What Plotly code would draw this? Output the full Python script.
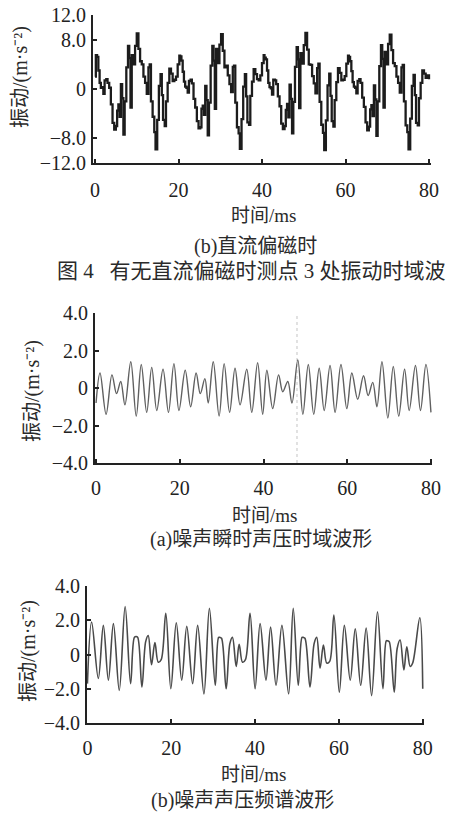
import plotly.graph_objects as go

# ---------------- data ----------------
# (top) vibration with DC bias, ms / m·s^-2
dc_t_p1 = [0.0,0.2,0.5,0.8,1.1,1.4,1.7,2.0,2.3,2.7,3.0,3.4,3.8,4.2,4.6,5.0,5.3,5.6,5.9,6.2,6.5,6.8,7.1,7.5,7.9,8.2,8.5,8.8,9.2,9.6,10.0,10.4,10.8,11.2,11.6,12.0,12.4,12.8,13.1,13.4,13.8,14.2,14.5,14.9,15.3,15.7,16.0,16.3,16.7,17.0,17.4,17.8,18.2,18.6,19.0,19.4,19.8]
dc_v_p1 = [2.0,5.5,5.2,3.0,1.0,0.2,0.3,-0.8,1.4,1.6,1.0,0.2,-2.5,-5.5,-6.6,-6.0,-3.5,-2.5,-4.5,0.8,-1.5,-7.4,-2.0,3.5,7.0,5.0,-3.0,5.5,4.0,7.0,9.0,6.5,4.5,4.0,2.0,1.0,-0.8,3.5,4.0,-2.0,-4.5,-7.0,-9.8,-5.0,0.5,2.4,-1.0,-5.0,-6.0,-2.0,1.0,3.3,2.5,1.3,1.5,2.0,4.0]
dc_t_p2 = [20.2,20.4,20.7,21.0,21.3,21.6,21.9,22.2,22.5,22.9,23.2,23.6,24.0,24.4,24.8,25.2,25.5,25.8,26.1,26.4,26.7,27.0,27.3,27.7,28.1,28.4,28.7,29.0,29.4,29.8,30.2,30.6,31.0,31.4,31.8,32.2,32.6,33.0,33.3,33.6,34.0,34.4,34.7,35.1,35.5,35.9,36.2,36.5,36.9,37.2,37.6,38.0,38.4,38.8,39.2,39.6,40.0]
dc_v_p2 = [5.4,5.3,4.6,2.8,1.2,0.4,0.2,-0.6,1.3,1.5,0.9,-1.6,-3.0,-5.2,-6.4,-6.2,-3.2,-2.7,-4.2,0.5,-1.8,-7.5,-2.2,3.8,7.0,4.6,-3.2,6.5,4.2,7.2,8.9,6.2,3.5,3.8,2.2,0.8,-0.5,3.6,3.8,-2.2,-6.2,-7.2,-9.7,-4.9,0.4,2.4,-1.2,-5.4,-5.8,-1.1,1.2,3.2,2.4,1.6,1.4,2.2,4.2]
dc_t_p3 = [40.4,40.6,40.9,41.2,41.5,41.8,42.1,42.4,42.7,43.1,43.4,43.8,44.2,44.6,45.0,45.4,45.7,46.0,46.3,46.6,46.9,47.2,47.5,47.9,48.3,48.6,48.9,49.2,49.6,50.0,50.4,50.8,51.2,51.6,52.0,52.4,52.8,53.2,53.5,53.8,54.2,54.6,54.9,55.3,55.7,56.1,56.4,56.7,57.1,57.4,57.8,58.2,58.6,59.0,59.4,59.8,60.2]
dc_v_p3 = [5.5,5.1,4.8,3.0,1.0,0.3,0.1,-0.9,1.5,1.4,0.8,-1.2,-2.8,-5.6,-6.5,-6.0,-3.4,-2.4,-4.6,0.7,-1.6,-7.2,-2.1,3.6,6.8,4.8,-3.1,5.8,4.1,7.1,9.1,6.4,4.0,3.9,2.1,0.9,-0.7,3.4,4.1,-2.1,-5.8,-7.1,-9.9,-5.1,0.6,2.5,-1.1,-5.2,-6.1,-1.8,1.1,3.4,2.6,1.4,1.5,2.1,4.1]
dc_t_p4 = [60.6,60.8,61.1,61.4,61.7,62.0,62.3,62.6,62.9,63.3,63.6,64.0,64.4,64.8,65.2,65.6,65.9,66.2,66.5,66.8,67.1,67.4,67.7,68.1,68.5,68.8,69.1,69.4,69.8,70.2,70.6,71.0,71.4,71.8,72.2,72.6,73.0,73.4,73.7,74.0,74.4,74.8,75.1,75.5,75.9,76.3,76.6,76.9,77.3,77.6,78.0,78.4,78.8,79.2,79.6,80.0]
dc_v_p4 = [5.4,5.2,4.5,2.9,1.1,0.4,0.2,-0.7,1.3,1.6,1.0,-1.4,-2.9,-5.4,-6.7,-6.1,-3.3,-2.6,-4.4,0.6,-1.7,-7.6,-2.0,3.7,7.1,4.9,-3.0,6.0,4.0,7.3,8.8,6.3,4.2,3.7,2.0,1.0,-0.6,3.5,3.9,-2.0,-5.9,-7.0,-9.8,-4.8,0.5,2.3,-1.0,-5.5,-5.9,-1.5,1.0,3.0,2.5,1.8,2.2,1.6]

# (middle) instantaneous noise pressure waveform
inst_t = [0.0,0.95,2.4,3.8,4.9,5.9,6.9,8.3,9.6,10.8,12.1,13.3,14.5,16.0,17.3,18.6,19.8,21.3,22.6,23.9,24.9,26.0,26.8,28.0,29.4,30.6,31.9,33.2,34.4,36.0,37.2,38.6,39.8,40.8,42.2,43.6,44.6,45.8,46.8,48.2,49.4,50.7,52.0,53.3,54.5,55.9,57.1,58.5,59.9,61.1,62.5,63.9,65.0,66.1,67.1,68.3,69.7,71.0,72.3,73.7,74.8,76.3,77.5,78.8,80.0]
inst_v = [-0.8,0.8,-1.4,0.7,-0.3,0.35,-0.9,1.4,-1.5,1.25,-1.3,1.1,-1.2,1.0,-1.3,1.3,-1.2,0.95,-1.0,0.8,-0.3,0.5,-0.8,1.4,-1.5,1.3,-1.3,1.05,-0.9,1.0,-1.3,1.35,-1.4,0.95,-1.1,0.7,-0.2,0.35,-0.8,1.5,-1.4,1.25,-1.4,1.05,-1.2,1.2,-1.3,1.25,-1.1,0.8,-0.6,0.65,-0.4,0.3,-1.0,1.4,-1.6,1.15,-1.5,1.0,-1.2,1.2,-1.2,1.25,-1.3]
cursor_t = [48.0]

# (bottom) noise pressure spectrum waveform
spec_t = [0.0,1.0,2.6,3.8,5.0,6.2,7.6,9.0,10.3,11.2,11.6,12.0,13.0,13.9,14.5,15.3,16.1,16.9,17.6,18.7,19.9,21.2,22.5,23.7,25.1,26.3,27.8,29.1,30.5,31.3,31.6,32.0,33.1,34.0,34.6,35.5,36.2,37.0,37.7,38.8,40.0,41.2,42.6,43.7,45.0,46.4,48.0,49.1,50.3,51.2,51.5,51.9,53.1,54.1,54.7,55.5,56.3,57.1,57.8,58.8,60.1,61.3,62.7,63.9,65.2,66.5,67.8,69.2,70.5,71.3,71.6,72.0,73.2,73.9,74.6,75.5,76.2,77.0,77.6,79.3,80.0]
spec_v = [-1.7,1.9,-1.4,1.7,-1.5,1.8,-2.1,2.8,-1.7,1.0,1.05,1.0,-1.9,0.75,1.1,-0.6,0.7,-0.45,-0.3,2.4,-2.0,1.85,-1.5,1.65,-1.7,1.7,-2.3,2.7,-1.8,1.0,1.0,0.95,-2.0,0.65,1.0,-0.7,0.6,-0.45,-0.3,2.4,-2.0,1.8,-1.5,1.6,-1.8,1.7,-2.3,2.7,-1.8,1.0,1.0,0.95,-1.9,0.65,1.0,-0.8,0.55,-0.5,-0.4,2.3,-2.2,1.7,-1.5,1.5,-1.8,1.55,-2.4,2.5,-2.0,0.8,0.8,0.75,-2.2,0.35,0.85,-0.9,0.45,-0.7,-0.5,2.15,-2.0]

x_ticks = [0, 20, 40, 60, 80]
x_ticktext = ["0", "20", "40", "60", "80"]
y1_ticks = [-12, -8, 0, 8, 12]
y1_ticktext = ["\u221212.0", "\u22128.0", "0", "8.0", "12.0"]
y23_ticks = [-4, -2, 0, 2, 4]
y23_ticktext = ["\u22124.0", "\u22122.0", "0", "2.0", "4.0"]

# ---------------- figure ----------------
W, H = 451, 814
def px_x(p): return p / W
def px_y(p): return 1 - p / H

dc_t = dc_t_p1 + dc_t_p2 + dc_t_p3 + dc_t_p4
dc_v = dc_v_p1 + dc_v_p2 + dc_v_p3 + dc_v_p4

fig = go.Figure()
fig.add_trace(go.Scatter(x=dc_t, y=dc_v, mode="lines", xaxis="x", yaxis="y",
                         line=dict(color="#1c1c1c", width=2.3, shape="hv"),
                         showlegend=False, hoverinfo="skip"))
fig.add_trace(go.Scatter(x=inst_t, y=inst_v, mode="lines", xaxis="x2", yaxis="y2",
                         line=dict(color="#606060", width=1.4, shape="spline", smoothing=1.0),
                         showlegend=False, hoverinfo="skip"))
fig.add_trace(go.Scatter(x=spec_t, y=spec_v, mode="lines", xaxis="x3", yaxis="y3",
                         line=dict(color="#4a4a4a", width=1.6, shape="spline", smoothing=1.0),
                         showlegend=False, hoverinfo="skip"))

fig.add_shape(type="line", xref="x2", yref="y2 domain", x0=cursor_t[0], x1=cursor_t[0],
              y0=0, y1=1, line=dict(color="#c4c4c4", width=1, dash="dot"), layer="below")

tick_font = dict(family="Liberation Serif", size=20, color="#222")
def axis_common(**kw):
    d = dict(showline=True, linecolor="#222", linewidth=2, mirror=False,
             ticks="inside", ticklen=4, tickwidth=2, tickcolor="#222",
             showgrid=False, zeroline=False, tickfont=tick_font, fixedrange=True,
             automargin=False)
    d.update(kw)
    return d

fig.update_layout(
    width=W, height=H,
    margin=dict(l=0, r=0, t=0, b=0, pad=0, autoexpand=False),
    paper_bgcolor="white", plot_bgcolor="white",
    xaxis=axis_common(domain=[px_x(93), px_x(431)], range=[-0.48, 80.48], anchor="y",
                      tickvals=x_ticks, ticktext=x_ticktext, ticklabelstandoff=8),
    yaxis=axis_common(domain=[px_y(163), px_y(15)], range=[-12, 12], anchor="x",
                      tickvals=y1_ticks, ticktext=y1_ticktext, ticklabelstandoff=1),
    xaxis2=axis_common(domain=[px_x(95), px_x(432)], range=[-0.25, 80.25], anchor="y2",
                       tickvals=x_ticks, ticktext=x_ticktext, ticklabelstandoff=6),
    yaxis2=axis_common(domain=[px_y(463), px_y(313)], range=[-4, 4], anchor="x2",
                       tickvals=y23_ticks, ticktext=y23_ticktext, ticklabelstandoff=1),
    xaxis3=axis_common(domain=[px_x(87), px_x(424)], range=[-0.1, 80.3], anchor="y3",
                       tickvals=x_ticks, ticktext=x_ticktext, ticklabelstandoff=6),
    yaxis3=axis_common(domain=[px_y(723), px_y(586)], range=[-4, 4], anchor="x3",
                       tickvals=y23_ticks, ticktext=y23_ticktext, ticklabelstandoff=1),
)

txt_font = "Liberation Serif, Noto Sans CJK SC"
def note(text, cx, cy, size, angle=0):
    fig.add_annotation(text=text, xref="paper", yref="paper", x=px_x(cx), y=px_y(cy),
                       xanchor="center", yanchor="middle", showarrow=False, textangle=angle,
                       font=dict(family=txt_font, size=size, color="#2a2a2a"))

ytitle = "振动/(m·s\u207b\u00b2)"
note(ytitle, 20, 77, 20, -90)
note(ytitle, 32, 391, 20, -90)
note(ytitle, 28, 651, 20, -90)

note("时间/ms", 263, 215, 19)
note("(b)直流偏磁时", 255, 246, 20)
note("图 4   有无直流偏磁时测点 3 处振动时域波", 252, 271, 21)

note("时间/ms", 264, 515, 19)
note("(a)噪声瞬时声压时域波形", 261, 539, 20)

note("时间/ms", 253, 774, 19)
note("(b)噪声声压频谱波形", 242, 800, 20)

fig.write_html(
    "out.html",
    config={"displayModeBar": False, "staticPlot": True},
    post_script="document.body.style.margin='0';document.body.style.overflow='hidden';",
)
